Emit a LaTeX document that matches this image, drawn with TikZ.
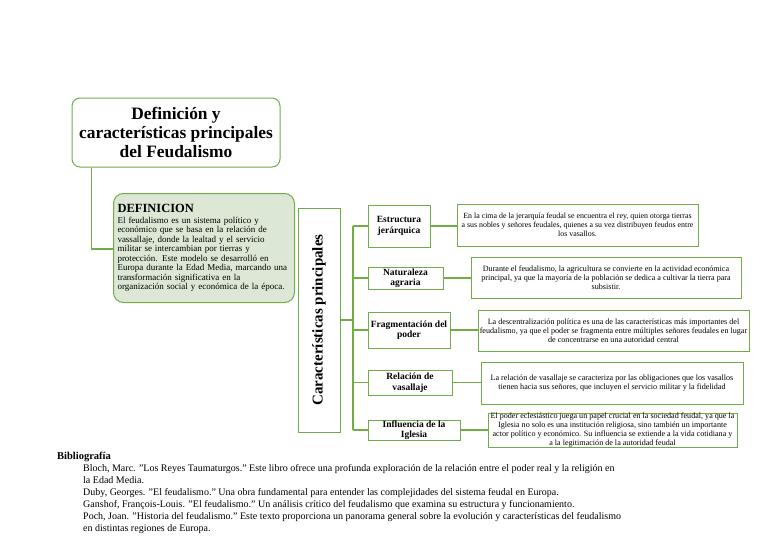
\documentclass[tikz,border=0pt]{standalone}
\usepackage{fontspec}
\setmainfont{Liberation Serif}
\definecolor{gr}{HTML}{70AD47}
\definecolor{defill}{HTML}{DCE8D5}
\newcommand{\qq}{\symbol{34}}
\begin{document}
\begin{tikzpicture}[x=1pt,y=-1pt,
  box/.style={draw=gr, line width=1pt, fill=white, inner sep=1pt, align=center},
  brbox/.style={box, inner sep=0pt, font=\fontsize{9.5}{10.5}\selectfont\bfseries},
  descbox/.style={box, inner xsep=1pt, inner ysep=-1pt, line width=0.9pt, font=\fontsize{8.1}{9}\selectfont},
  conn/.style={draw=gr, line width=1.2pt}]
\useasboundingbox (0,0) rectangle (768,543);

\node[box, rounded corners=8pt, minimum width=208, minimum height=69,
  font=\fontsize{17.4}{19}\selectfont\bfseries] (title) at (176,132.5)
  {Definición y\\características principales\\del Feudalismo};

\node[box, fill=defill, rounded corners=10pt, anchor=north west, minimum width=181,
  minimum height=109, text width=173, align=left, inner sep=4pt,
  font=\fontsize{9}{9.5}\selectfont] (def) at (113,193)
  {{\fontsize{12.5}{15}\selectfont\bfseries DEFINICION}\\[1pt]
   El feudalismo es un sistema político y\\
   económico que se basa en la relación de\\
   vassallaje, donde la lealtad y el servicio\\
   militar se intercambian por tierras y\\
   protección. Este modelo se desarrolló en\\
   Europa durante la Edad Media, marcando una\\
   transformación significativa en la\\
   organización social y económica de la época.};

\node[box, rotate=90, minimum width=224, minimum height=42,
  font=\fontsize{15}{17}\selectfont\bfseries] (car) at (319,320) {Características principales};

\node[brbox, minimum width=62, minimum height=42] (b1) at (399,226) {Estructura\\jerárquica};
\node[brbox, minimum width=75, minimum height=22] (b2) at (405.5,278) {Naturaleza\\agraria};
\node[brbox, minimum width=82, minimum height=36] (b3) at (409,330) {Fragmentación del\\poder};
\node[brbox, minimum width=84, minimum height=25] (b4) at (410,382.5) {Relación de\\vasallaje};
\node[brbox, minimum width=92, minimum height=20] (b5) at (414,430) {Influencia de la\\Iglesia};

\node[descbox, minimum width=241, minimum height=42, font=\fontsize{7.9}{9}\selectfont] (d1) at (577.5,225)
  {En la cima de la jerarquía feudal se encuentra el rey, quien otorga tierras\\
   a sus nobles y señores feudales, quienes a su vez distribuyen feudos entre\\
   los vasallos.};
\node[descbox, minimum width=270, minimum height=41] (d2) at (606,277.5)
  {Durante el feudalismo, la agricultura se convierte en la actividad económica\\
   principal, ya que la mayoría de la población se dedica a cultivar la tierra para\\
   subsistir.};
\node[descbox, minimum width=271, minimum height=41] (d3) at (613.5,330.5)
  {La descentralización política es una de las características más importantes del\\
   feudalismo, ya que el poder se fragmenta entre múltiples señores feudales en lugar\\
   de concentrarse en una autoridad central};
\node[descbox, minimum width=262, minimum height=42] (d4) at (612,383)
  {La relación de vasallaje se caracteriza por las obligaciones que los vasallos\\
   tienen hacia sus señores, que incluyen el servicio militar y la fidelidad};
\node[descbox, minimum width=249, minimum height=34, inner ysep=-4pt] (d5) at (612.5,430)
  {El poder eclesiástico juega un papel crucial en la sociedad feudal, ya que la\\
   Iglesia no solo es una institución religiosa, sino también un importante\\
   actor político y económico. Su influencia se extiende a la vida cotidiana y\\
   a la legitimación de la autoridad feudal};

% connectors
\coordinate (t) at (353,0);
\draw[conn] ([xshift=20pt]title.south west) |- (def.west |- 0,249);
\draw[conn] (car.south) -- (car.south -| t);
\draw[conn] (b1.west -| t) -- (b5.west -| t);
\foreach \i in {1,...,5} {
  \draw[conn] (b\i.west -| t) -- (b\i.west);
  \draw[conn] (b\i.east) -- (b\i.east -| d\i.west);
}

% bibliography
\node[anchor=north west, inner sep=0pt, font=\fontsize{10.5}{12}\selectfont\bfseries] (bibh) at (57,452) {Bibliografía};
\node[anchor=north west, inner sep=0pt, align=left, font=\fontsize{10}{12}\selectfont] (bib) at (83,464)
  {Bloch, Marc. \qq Los Reyes Taumaturgos.\qq{} Este libro ofrece una profunda exploración de la relación entre el poder real y la religión en\\
   la Edad Media.\\
   Duby, Georges. \qq El feudalismo.\qq{} Una obra fundamental para entender las complejidades del sistema feudal en Europa.\\
   Ganshof, François-Louis. \qq El feudalismo.\qq{} Un análisis crítico del feudalismo que examina su estructura y funcionamiento.\\
   Poch, Joan. \qq Historia del feudalismo.\qq{} Este texto proporciona un panorama general sobre la evolución y características del feudalismo\\
   en distintas regiones de Europa.};
\end{tikzpicture}
\end{document}
